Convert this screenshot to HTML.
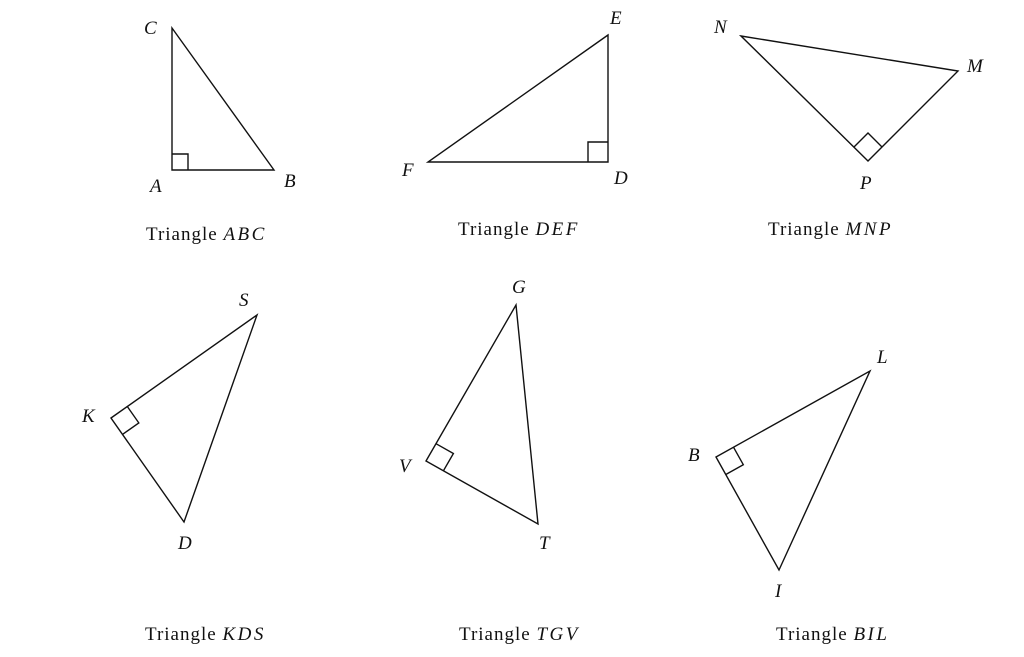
<!DOCTYPE html>
<html><head><meta charset="utf-8"><style>
html,body{margin:0;padding:0;background:#fff;}
svg{display:block;}
text{font-family:"Liberation Serif",serif;fill:#111;}
.l{font-style:italic;font-size:19px;}
.c{font-size:19px;letter-spacing:1px;}
.c tspan{font-style:italic;letter-spacing:2.5px;}
</style></head><body>
<svg width="1024" height="657" viewBox="0 0 1024 657" xmlns="http://www.w3.org/2000/svg">
<g fill="none" stroke="#111" stroke-width="1.4">
<polygon points="172,28 172,170 274,170"/>
<polyline points="172,154 188,154 188,170"/>
<polygon points="608,35 428,162 608,162"/>
<polyline points="588,162 588,142 608,142"/>
<polygon points="741,36 958,71 868,161"/>
<polyline points="854,147 868,133 882,147"/>
<polygon points="111,418 257,315 184,522"/>
<polyline points="127.3,406.5 138.8,422.9 122.5,434.4"/>
<polygon points="516,305 426,461 538,524"/>
<polyline points="436,443.7 453.4,453.5 443.4,470.8"/>
<polygon points="716,457 870,371 779,570"/>
<polyline points="733.5,447.2 743.3,464.7 725.8,474.5"/>
</g>
<text class="l" x="144" y="34">C</text>
<text class="l" x="150" y="192">A</text>
<text class="l" x="284" y="187">B</text>
<text class="c" x="146" y="240">Triangle <tspan>ABC</tspan></text>
<text class="l" x="610" y="24">E</text>
<text class="l" x="402" y="176">F</text>
<text class="l" x="614" y="184">D</text>
<text class="c" x="458" y="235">Triangle <tspan>DEF</tspan></text>
<text class="l" x="714" y="33">N</text>
<text class="l" x="967" y="72">M</text>
<text class="l" x="860" y="189">P</text>
<text class="c" x="768" y="235">Triangle <tspan>MNP</tspan></text>
<text class="l" x="82" y="422">K</text>
<text class="l" x="239" y="306">S</text>
<text class="l" x="178" y="549">D</text>
<text class="c" x="145" y="640">Triangle <tspan>KDS</tspan></text>
<text class="l" x="512" y="293">G</text>
<text class="l" x="399" y="472">V</text>
<text class="l" x="539" y="549">T</text>
<text class="c" x="459" y="640">Triangle <tspan>TGV</tspan></text>
<text class="l" x="688" y="461">B</text>
<text class="l" x="877" y="363">L</text>
<text class="l" x="775" y="597">I</text>
<text class="c" x="776" y="640">Triangle <tspan>BIL</tspan></text>
</svg>
</body></html>
